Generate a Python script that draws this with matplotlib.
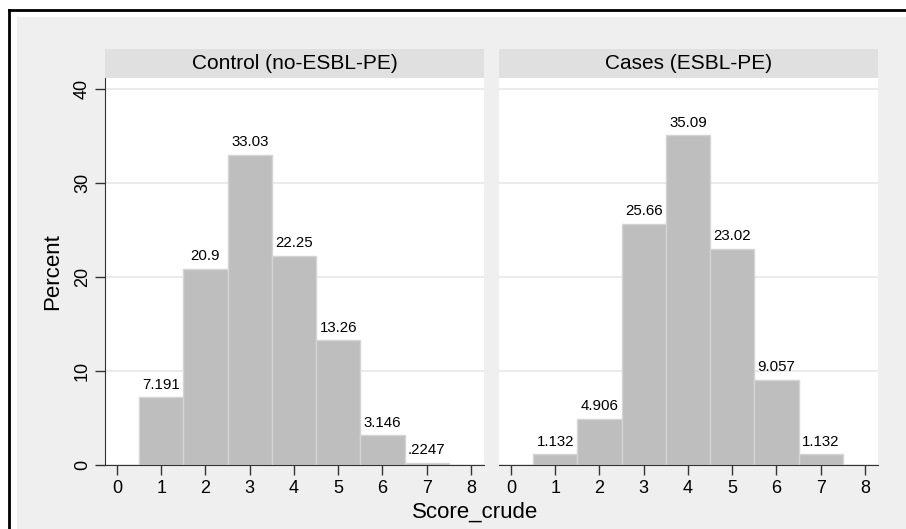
import matplotlib
matplotlib.use("Agg")
import matplotlib.pyplot as plt
from matplotlib.patches import Rectangle
from matplotlib.lines import Line2D

plt.rcParams['font.family'] = ['Liberation Sans', 'DejaVu Sans']

# data
scores = [1, 2, 3, 4, 5, 6, 7]
control_pct = [7.191, 20.9, 33.03, 22.25, 13.26, 3.146, 0.2247]
control_lbl = ["7.191", "20.9", "33.03", "22.25", "13.26", "3.146", ".2247"]
cases_pct = [1.132, 4.906, 25.66, 35.09, 23.02, 9.057, 1.132]
cases_lbl = ["1.132", "4.906", "25.66", "35.09", "23.02", "9.057", "1.132"]
panel_titles = ["Control (no-ESBL-PE)", "Cases (ESBL-PE)"]

W, H = 906, 529
fig = plt.figure(figsize=(W / 100, H / 100), dpi=100, facecolor='white')

# gray plot region and black outer frame (drawn behind the axes)
fig.add_artist(Rectangle((17 / W, 0), 1, 1 - 17 / H, transform=fig.transFigure,
                         facecolor='#efefef', edgecolor='none', zorder=-10))
fig.add_artist(Line2D([9 / W, 9 / W], [0, 1 - 10 / H], transform=fig.transFigure,
                      color='black', lw=2, zorder=-9))
fig.add_artist(Line2D([9 / W, 1], [1 - 10 / H, 1 - 10 / H], transform=fig.transFigure,
                      color='black', lw=2, zorder=-9))

bottom = (H - 465) / H
height = (465 - 78) / H
width = (484 - 105) / W
ax1 = fig.add_axes([105 / W, bottom, width, height])
ax2 = fig.add_axes([499 / W, bottom, width, height])

for ax, vals, lbls, title in [(ax1, control_pct, control_lbl, panel_titles[0]),
                              (ax2, cases_pct, cases_lbl, panel_titles[1])]:
    ax.set_facecolor('white')
    ax.bar(scores, vals, width=1.0, color='#bebebe', edgecolor='#d4d4d4', linewidth=1, zorder=2)
    for x, v, s in zip(scores, vals, lbls):
        ax.annotate(s, (x, v), xytext=(0, 4), textcoords='offset points',
                    ha='center', va='bottom', fontsize=10.8)
    ax.set_xlim(-0.271, 8.294)
    ax.set_ylim(0, 41.17)
    ax.set_xticks(range(0, 9))
    ax.tick_params(axis='x', length=7, width=1, color='#333333', labelsize=13, pad=4)
    ax.set_yticks([0, 10, 20, 30, 40])
    ax.yaxis.grid(True, color='#ebebeb', linewidth=1.5, zorder=0)
    ax.set_axisbelow(True)
    for side in ['top', 'right']:
        ax.spines[side].set_visible(False)
    ax.spines['bottom'].set_color('#333333')
    ax.spines['left'].set_color('#333333')
    # strip title above the panel
    ax.add_patch(Rectangle((0, 1), 1, 29 / 387, transform=ax.transAxes, facecolor='#e0e0e0',
                           edgecolor='none', clip_on=False))
    ax.text(0.5, 1 + 14.5 / 387, title, transform=ax.transAxes, ha='center', va='center',
            fontsize=15)

ax1.tick_params(axis='y', length=7, width=1, color='#333333', labelsize=13,
                labelrotation=90, pad=3)
for lab in ax1.get_yticklabels():
    lab.set_verticalalignment('center')
ax1.set_ylabel('Percent', fontsize=16, labelpad=8)

ax2.spines['left'].set_visible(False)
ax2.tick_params(axis='y', left=False, labelleft=False)

fig.text(475 / W, (H - 512) / H, 'Score_crude', ha='center', va='center', fontsize=16)

fig.savefig('out.png', dpi=100)
